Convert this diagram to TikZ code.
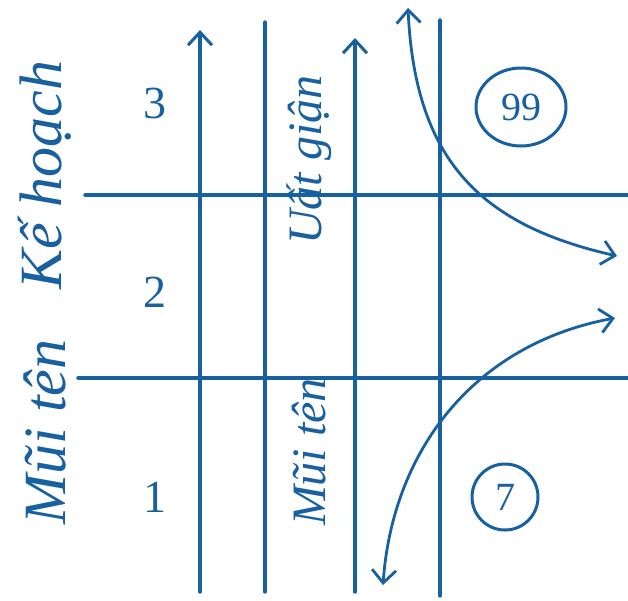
\documentclass[tikz,border=0pt]{standalone}
\usepackage{fontspec}
\setmainfont{Liberation Serif}
\usepackage{tikz}
\usetikzlibrary{arrows.meta, positioning, shapes.geometric}
\definecolor{ink}{RGB}{24,96,160}

\begin{document}
\begin{tikzpicture}[x=1pt, y=-1pt,
  ink line/.style={ink, line width=3.4pt, line cap=round},
  ink arrow/.style={ink line, -{Straight Barb[length=13pt, width=24pt, line width=3pt]}},
  ink curve/.style={ink, line width=2.8pt, line cap=round,
    {Straight Barb[length=13pt, width=24pt, line width=2.8pt]}-{Straight Barb[length=13pt, width=24pt, line width=2.8pt]}},
  label/.style={ink, font=\itshape\fontsize{60}{60}\selectfont, rotate=90, inner sep=0pt},
  small label/.style={ink, font=\itshape\fontsize{48}{48}\selectfont, rotate=90, inner sep=0pt},
  digit/.style={ink, font=\fontsize{46}{46}\selectfont, inner sep=0pt},
  ring/.style={ink, draw, line width=3pt, ellipse, inner sep=6pt}]
  \useasboundingbox (0,0) rectangle (628,600);

  % grid end points
  \coordinate (h1w) at (85,195);  \coordinate (h1e) at (628,195);
  \coordinate (h2w) at (78,378);  \coordinate (h2e) at (628,378);
  \coordinate (v1s) at (200,592); \coordinate (v1n) at (200,30);
  \coordinate (v2s) at (265,592); \coordinate (v2n) at (265,22);
  \coordinate (v3s) at (355,592); \coordinate (v3n) at (355,38);
  \coordinate (v4s) at (440,596); \coordinate (v4n) at (440,20);

  \draw[ink line] (h1w) -- (h1e);
  \draw[ink line] (h2w) -- (h2e);
  \draw[ink arrow] (v1s) -- (v1n);
  \draw[ink line] (v2s) -- (v2n);
  \draw[ink arrow] (v3s) -- (v3n);
  \draw[ink line] (v4s) -- (v4n);

  % curves
  \coordinate (c1a) at (408,8);   \coordinate (c1b) at (617,256);
  \coordinate (c2a) at (383,585); \coordinate (c2b) at (615,318);
  \draw[ink curve] (c1a) .. controls (415,160) and (480,225) .. (c1b);
  \draw[ink curve] (c2a) .. controls (392,455) and (470,345) .. (c2b);

  % labels
  \node[label] (muiL) at (45,432) {Mũi tên};
  \node[label] (kehoach) at (45,175) {Kế hoạch};
  \node[small label] (muiM) at (309,452) {Mũi tên};
  \node[small label] (uatgian) at (309,160) {Uất giận};

  \foreach \n/\y in {3/103, 2/292, 1/497}{
    \node[digit] (d\n) at (155,\y) {\n};
  }

  \node[ring, minimum width=90pt, minimum height=78pt] (r99) at (521,107) {};
  \node[digit, font=\fontsize{40}{40}\selectfont] (n99) at (r99) {99};
  \node[ring, circle, minimum size=66pt] (r7) at (505,497) {};
  \node[digit, font=\fontsize{40}{40}\selectfont] (n7) at (r7) {7};
\end{tikzpicture}
\end{document}
